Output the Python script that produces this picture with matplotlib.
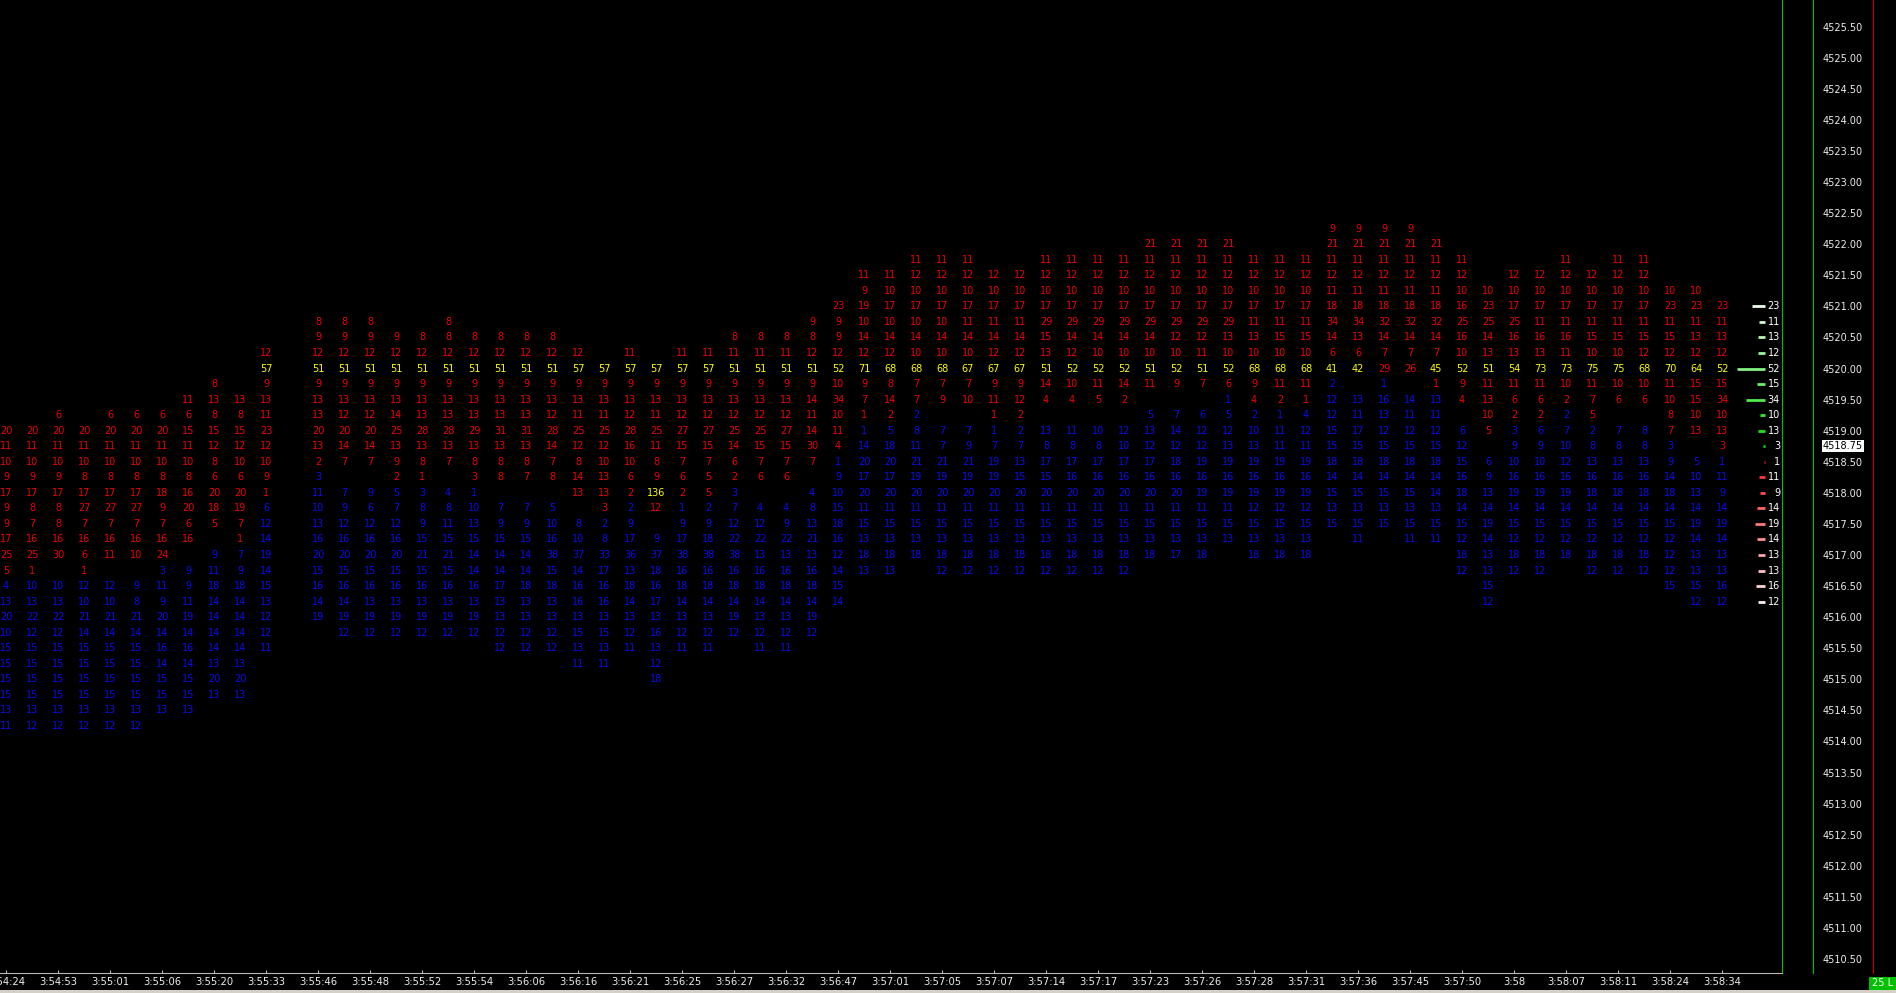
import numpy as np
import matplotlib.pyplot as plt
from matplotlib.lines import Line2D
from matplotlib.patches import Rectangle

# price step between rows
tick = 0.25
last_price = 4518.75

# time labels, one every second bar
times = ['3:54:24', '3:54:53', '3:55:01', '3:55:06', '3:55:20', '3:55:33', '3:55:46',
         '3:55:48', '3:55:52', '3:55:54', '3:56:06', '3:56:16', '3:56:21', '3:56:25',
         '3:56:27', '3:56:32', '3:56:47', '3:57:01', '3:57:05', '3:57:07', '3:57:14',
         '3:57:17', '3:57:23', '3:57:26', '3:57:28', '3:57:31', '3:57:36', '3:57:45',
         '3:57:50', '3:58', '3:58:07', '3:58:11', '3:58:24', '3:58:34']

# top price of every bar (None = empty bar)
tops = [4519.00, 4519.00, 4519.25, 4519.00, 4519.25, 4519.25, 4519.25, 4519.50, 4519.75,
        4519.50, 4520.25, None, 4520.75, 4520.75, 4520.75, 4520.50, 4520.50, 4520.75,
        4520.50, 4520.50, 4520.50, 4520.50, 4520.25, 4520.00, 4520.25, 4520.00, 4520.25,
        4520.25, 4520.50, 4520.50, 4520.50, 4520.75, 4521.00, 4521.50, 4521.50, 4521.75,
        4521.75, 4521.75, 4521.50, 4521.50, 4521.75, 4521.75, 4521.75, 4521.75, 4522.00,
        4522.00, 4522.00, 4522.00, 4521.75, 4521.75, 4521.75, 4522.25, 4522.25, 4522.25,
        4522.25, 4522.00, 4521.75, 4521.25, 4521.50, 4521.50, 4521.75, 4521.50, 4521.75,
        4521.75, 4521.25, 4521.25, 4521.00]

# empty price rows between the upper and lower part of a bar
gaps = [0, 0, 1, 0, 1, 1, 0, 1, 1, 0, 0, 0, 0, 1, 1, 0, 0, 1, 0, 1, 1, 1, 1, 0, 0, 1, 0,
        0, 0, 1, 1, 1, 0, 0, 0, 0, 1, 1, 0, 0, 1, 1, 1, 1, 1, 1, 1, 0, 0, 0, 0, 0, 1, 0,
        1, 0, 1, 1, 0, 0, 0, 0, 1, 1, 0, 1, 0]

# upper (red) volumes, top to bottom
ask_vol = [
    [20, 11, 10, 9, 17, 9, 9, 17, 25, 5],
    [20, 11, 10, 9, 17, 8, 7, 16, 25, 1],
    [6, 20, 11, 10, 9, 17, 8, 8, 16, 30],
    [20, 11, 10, 8, 17, 27, 7, 16, 6, 1],
    [6, 20, 11, 10, 8, 17, 27, 7, 16, 11],
    [6, 20, 11, 10, 8, 17, 27, 7, 16, 10],
    [6, 20, 11, 10, 8, 18, 9, 7, 16, 24],
    [11, 6, 15, 11, 10, 8, 16, 20, 6, 16],
    [8, 13, 8, 15, 12, 8, 6, 20, 18, 5],
    [13, 8, 15, 12, 10, 6, 20, 19, 7, 1],
    [12, 57, 9, 13, 11, 23, 12, 10, 9, 1],
    [],
    [8, 9, 12, 51, 9, 13, 13, 20, 13, 2],
    [8, 9, 12, 51, 9, 13, 12, 20, 14, 7],
    [8, 9, 12, 51, 9, 13, 12, 20, 14, 7],
    [9, 12, 51, 9, 13, 14, 25, 13, 9, 2],
    [8, 12, 51, 9, 13, 13, 28, 13, 8, 1],
    [8, 8, 12, 51, 9, 13, 13, 28, 13, 7],
    [8, 12, 51, 9, 13, 13, 29, 13, 8, 3],
    [8, 12, 51, 9, 13, 13, 31, 13, 8, 8],
    [8, 12, 51, 9, 13, 13, 31, 13, 8, 7],
    [8, 12, 51, 9, 13, 12, 28, 14, 7, 8],
    [12, 57, 9, 13, 11, 25, 12, 8, 14, 13],
    [57, 9, 13, 11, 25, 12, 10, 13, 13, 3],
    [11, 57, 9, 13, 12, 28, 16, 10, 6, 2],
    [57, 9, 13, 11, 25, 11, 8, 9, 136, 12],
    [11, 57, 9, 13, 12, 27, 15, 7, 6, 2],
    [11, 57, 9, 13, 12, 27, 15, 7, 5, 5],
    [8, 11, 51, 9, 13, 12, 25, 14, 6, 2],
    [8, 11, 51, 9, 13, 12, 25, 15, 7, 6],
    [8, 11, 51, 9, 13, 12, 27, 15, 7, 6],
    [9, 8, 12, 51, 9, 14, 11, 14, 30, 7],
    [23, 9, 9, 12, 52, 10, 34, 10, 11, 4],
    [11, 9, 19, 10, 14, 12, 71, 9, 7, 1],
    [11, 10, 17, 10, 14, 12, 68, 8, 14, 2],
    [11, 12, 10, 17, 10, 14, 10, 68, 7, 7],
    [11, 12, 10, 17, 10, 14, 10, 68, 7, 9],
    [11, 12, 10, 17, 11, 14, 10, 67, 7, 10],
    [12, 10, 17, 11, 14, 12, 67, 9, 11, 1],
    [12, 10, 17, 11, 14, 12, 67, 9, 12, 2],
    [11, 12, 10, 17, 29, 15, 13, 51, 14, 4],
    [11, 12, 10, 17, 29, 14, 12, 52, 10, 4],
    [11, 12, 10, 17, 29, 14, 10, 52, 11, 5],
    [11, 12, 10, 17, 29, 14, 10, 52, 14, 2],
    [21, 11, 12, 10, 17, 29, 14, 10, 51, 11],
    [21, 11, 12, 10, 17, 29, 12, 10, 52, 9],
    [21, 11, 12, 10, 17, 29, 12, 11, 51, 7],
    [21, 11, 12, 10, 17, 29, 13, 10, 52, 6],
    [11, 12, 10, 17, 11, 13, 10, 68, 9, 4],
    [11, 12, 10, 17, 11, 15, 10, 68, 11, 2],
    [11, 12, 10, 17, 11, 15, 10, 68, 11, 1],
    [9, 21, 11, 12, 11, 18, 34, 14, 6, 41],
    [9, 21, 11, 12, 11, 18, 34, 13, 6, 42],
    [9, 21, 11, 12, 11, 18, 32, 14, 7, 29],
    [9, 21, 11, 12, 11, 18, 32, 14, 7, 26],
    [21, 11, 12, 11, 18, 32, 14, 7, 45, 1],
    [11, 12, 10, 16, 25, 16, 10, 52, 9, 4],
    [10, 23, 25, 14, 13, 51, 11, 13, 10, 5],
    [12, 10, 17, 25, 16, 13, 54, 11, 6, 2],
    [12, 10, 17, 11, 16, 13, 73, 11, 6, 2],
    [11, 12, 10, 17, 11, 16, 11, 73, 10, 2],
    [12, 10, 17, 11, 15, 10, 75, 11, 7, 5],
    [11, 12, 10, 17, 11, 15, 10, 75, 10, 6],
    [11, 12, 10, 17, 11, 15, 12, 68, 10, 6],
    [10, 23, 11, 15, 12, 70, 11, 10, 8, 7],
    [10, 23, 11, 13, 12, 64, 15, 15, 10, 13],
    [23, 11, 13, 12, 52, 15, 34, 10, 13, 3],
]

# lower (blue) volumes, top to bottom
bid_vol = [
    [4, 13, 20, 10, 15, 15, 15, 15, 13, 11],
    [10, 13, 22, 12, 15, 15, 15, 15, 13, 12],
    [10, 13, 22, 12, 15, 15, 15, 15, 13, 12],
    [12, 10, 21, 14, 15, 15, 15, 15, 13, 12],
    [12, 10, 21, 14, 15, 15, 15, 15, 13, 12],
    [9, 8, 21, 14, 15, 15, 15, 15, 13, 12],
    [3, 11, 9, 20, 14, 16, 14, 15, 15, 13],
    [9, 9, 11, 19, 14, 16, 14, 15, 15, 13],
    [9, 11, 18, 14, 14, 14, 14, 13, 20, 13],
    [7, 9, 18, 14, 14, 14, 14, 13, 20, 13],
    [6, 12, 14, 19, 14, 15, 13, 12, 12, 11],
    [],
    [3, 11, 10, 13, 16, 20, 15, 16, 14, 19],
    [7, 9, 12, 16, 20, 15, 16, 14, 19, 12],
    [9, 6, 12, 16, 20, 15, 16, 13, 19, 12],
    [5, 7, 12, 16, 20, 15, 16, 13, 19, 12],
    [3, 8, 9, 15, 21, 15, 16, 13, 19, 12],
    [4, 8, 11, 15, 21, 15, 16, 13, 19, 12],
    [1, 10, 13, 15, 14, 14, 16, 13, 19, 12],
    [7, 9, 15, 14, 14, 17, 13, 13, 12, 12],
    [7, 9, 15, 14, 14, 18, 13, 13, 12, 12],
    [5, 10, 16, 38, 15, 18, 13, 13, 12, 12],
    [8, 10, 37, 14, 16, 16, 13, 15, 13, 11],
    [2, 8, 33, 17, 16, 16, 13, 15, 13, 11],
    [2, 9, 17, 36, 13, 18, 14, 13, 12, 11],
    [9, 37, 18, 16, 17, 13, 16, 13, 12, 18],
    [1, 9, 17, 38, 16, 18, 14, 13, 12, 11],
    [2, 9, 18, 38, 16, 18, 14, 13, 12, 11],
    [3, 7, 12, 22, 38, 16, 18, 14, 19, 12],
    [4, 12, 22, 13, 16, 18, 14, 13, 12, 11],
    [4, 9, 22, 13, 16, 18, 14, 13, 12, 11],
    [4, 8, 13, 21, 13, 16, 18, 14, 19, 12],
    [1, 9, 10, 15, 18, 16, 12, 14, 15, 14],
    [1, 14, 20, 17, 20, 11, 15, 13, 18, 13],
    [5, 18, 20, 17, 20, 11, 15, 13, 18, 13],
    [2, 8, 11, 21, 19, 20, 11, 15, 13, 18],
    [7, 7, 21, 19, 20, 11, 15, 13, 18, 12],
    [7, 9, 21, 19, 20, 11, 15, 13, 18, 12],
    [1, 7, 19, 19, 20, 11, 15, 13, 18, 12],
    [2, 7, 13, 15, 20, 11, 15, 13, 18, 12],
    [13, 8, 17, 15, 20, 11, 15, 13, 18, 12],
    [11, 8, 17, 16, 20, 11, 15, 13, 18, 12],
    [10, 8, 17, 16, 20, 11, 15, 13, 18, 12],
    [12, 10, 17, 16, 20, 11, 15, 13, 18, 12],
    [5, 13, 12, 17, 16, 20, 11, 15, 13, 18],
    [7, 14, 12, 18, 16, 20, 11, 15, 13, 17],
    [6, 12, 12, 19, 16, 19, 11, 15, 13, 18],
    [1, 5, 12, 13, 19, 16, 19, 11, 15, 13],
    [2, 10, 13, 19, 16, 19, 12, 15, 13, 18],
    [1, 11, 11, 19, 16, 19, 12, 15, 13, 18],
    [4, 12, 11, 19, 16, 19, 12, 15, 13, 18],
    [2, 12, 12, 15, 15, 18, 14, 15, 13, 15],
    [13, 11, 17, 15, 18, 14, 15, 13, 15, 11],
    [1, 16, 13, 12, 15, 18, 14, 15, 13, 15],
    [14, 11, 12, 15, 18, 14, 15, 13, 15, 11],
    [13, 11, 12, 15, 18, 14, 14, 13, 15, 11],
    [6, 12, 15, 16, 18, 14, 15, 12, 18, 12],
    [6, 9, 13, 14, 19, 14, 13, 13, 15, 12],
    [3, 9, 10, 16, 19, 14, 15, 12, 18, 12],
    [6, 9, 10, 16, 19, 14, 15, 12, 18, 12],
    [2, 7, 10, 12, 16, 19, 14, 15, 12, 18],
    [2, 8, 13, 16, 18, 14, 15, 12, 18, 12],
    [7, 8, 13, 16, 18, 14, 15, 12, 18, 12],
    [8, 8, 13, 16, 18, 14, 15, 12, 18, 12],
    [3, 9, 14, 18, 14, 15, 12, 12, 12, 15],
    [5, 10, 13, 14, 19, 14, 13, 13, 15, 12],
    [1, 11, 9, 14, 19, 14, 13, 13, 16, 12],
]

RED = '#f00000'
BLUE = '#0c0cf0'
YELLOW = '#ffff00'
FG = '#ececec'

W, H = 1896, 993
fig = plt.figure(figsize=(W / 100, H / 100), dpi=100, facecolor='black')
ax = fig.add_axes([0, 20 / H, 1782 / W, 973 / H], facecolor='black')
ax.set_xlim(-6 / 26, 1776 / 26)
ax.set_ylim(4519.5 - 573.4 / 62.15, 4519.5 + 399.6 / 62.15)

for i, top in enumerate(tops):
    if top is None:
        continue
    for k, v in enumerate(ask_vol[i]):
        ax.text(i, top - k * tick, str(v), color=YELLOW if v >= 40 else RED,
                fontsize=7, ha='center', va='center')
    start = top - (len(ask_vol[i]) + gaps[i]) * tick
    for k, v in enumerate(bid_vol[i]):
        ax.text(i, start - k * tick, str(v), color=YELLOW if v >= 40 else BLUE,
                fontsize=7, ha='center', va='center')

# profile of the last bar at the right edge
n = len(tops) - 1
up_p = tops[n] - np.arange(len(ask_vol[n])) * tick
lo_p = tops[n] - (len(ask_vol[n]) + gaps[n] + np.arange(len(bid_vol[n]))) * tick
prof_p = np.concatenate([up_p, lo_p])
prof_v = np.array(ask_vol[n] + bid_vol[n])
cols = []
for p in prof_p:
    if p >= last_price:
        t = (p - last_price) / (up_p.max() - last_price)
        base = np.array([0.0, 0.9, 0.0])
    else:
        t = (last_price - tick - p) / (last_price - tick - lo_p.min())
        base = np.array([1.0, 0.12, 0.12])
    cols.append(base * (1 - 0.92 * t) + np.ones(3) * 0.92 * t)
end = (1765 - 6) / 26
ax.hlines(prof_p, end - prof_v * 0.545 / 26, end, colors=cols, lw=2.0)
for p, v in zip(prof_p, prof_v):
    ax.text((1780 - 6) / 26, p, str(v), color='white', fontsize=7,
            ha='right', va='center')

# axes styling
for s in ['left', 'top']:
    ax.spines[s].set_visible(False)
ax.spines['right'].set_color('#00c000')
ax.spines['bottom'].set_color('#b8b8b8')

ax.set_xticks(np.arange(0, len(tops), 2))
ax.set_xticklabels(times)
ax.tick_params(axis='x', direction='in', length=2.5, color='#b8b8b8', pad=3,
               labelsize=7.2, labelcolor=FG)

ax.yaxis.set_ticks_position('right')
ax.set_yticks(np.arange(4510.5, 4525.51, 0.5))
ax.set_yticklabels(['%.2f' % p for p in np.arange(4510.5, 4525.51, 0.5)])
ax.tick_params(axis='y', length=0, pad=29.5, labelsize=7, labelcolor=FG)

# current price marker
ax.text(1823 / 1782, last_price, '%.2f' % last_price, transform=ax.get_yaxis_transform(),
        color='black', fontsize=7, ha='left', va='center', clip_on=False,
        bbox=dict(boxstyle='square,pad=0.12', fc='white', ec='none'))

# price scale separators and window chrome
fig.add_artist(Line2D([1813 / W] * 2, [20 / H, 1], color='#00c000', lw=0.8,
                      transform=fig.transFigure))
fig.add_artist(Line2D([1873 / W] * 2, [20 / H, 1], color='#d00000', lw=0.8,
                      transform=fig.transFigure))
fig.add_artist(Rectangle((0, 0), 1, 3 / H, transform=fig.transFigure,
                         color='#d4d0c8', lw=0))
fig.add_artist(Rectangle((1869 / W, 3 / H), 27 / W, 13 / H, transform=fig.transFigure,
                         color='#00c000', lw=0))
fig.text(1872 / W, 9.5 / H, '25 L', color='white', fontsize=7, va='center')

fig.savefig('out.png', dpi=100, facecolor='black')
